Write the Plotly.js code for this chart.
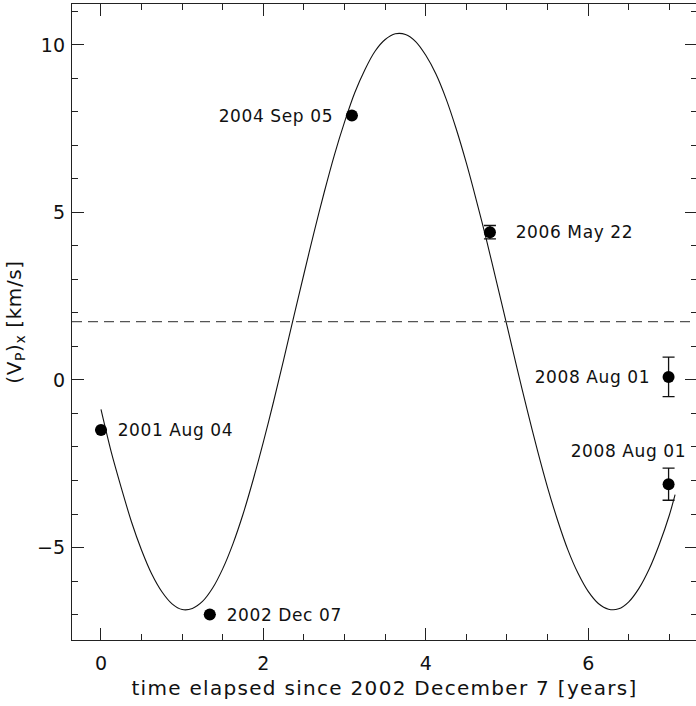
<!DOCTYPE html>
<html>
<head>
<meta charset="utf-8">
<script src="https://cdn.plot.ly/plotly-3.0.1.min.js"></script>
<style>
  body { margin: 0; overflow: hidden; background: #fff; }
  #chart { width: 700px; height: 706px; }
  /* the original font is drawn with wide spacing */
  #chart .xtitle { letter-spacing: 1.3px; }
  #chart .ytitle { letter-spacing: 0.6px; }
  #chart .annotation-text { letter-spacing: 0.6px; }
</style>
</head>
<body>
<div id="chart"></div>
<script>
// model curve
const curveT = [0, 0.125, 0.25, 0.375, 0.5, 0.625, 0.75, 0.875, 1.0, 1.125, 1.25, 1.375, 1.5, 1.625, 1.75, 1.875,
  2.0, 2.125, 2.25, 2.375, 2.5, 2.625, 2.75, 2.875, 3.0, 3.125, 3.25, 3.375, 3.5, 3.625, 3.75, 3.875,
  4.0, 4.125, 4.25, 4.375, 4.5, 4.625, 4.75, 4.875, 5.0, 5.125, 5.25, 5.375, 5.5, 5.625, 5.75, 5.875,
  6.0, 6.125, 6.25, 6.375, 6.5, 6.625, 6.75, 6.875, 7.0, 7.07];
const curveV = [-0.88, -2.14, -3.22, -4.23, -5.08, -5.79, -6.32, -6.68, -6.85, -6.82, -6.61, -6.21, -5.63, -4.89, -4.0, -2.97,
  -1.85, -0.65, 0.61, 1.9, 3.17, 4.42, 5.61, 6.72, 7.7, 8.57, 9.26, 9.81, 10.16, 10.33, 10.31, 10.1,
  9.69, 9.13, 8.39, 7.49, 6.47, 5.34, 4.15, 2.89, 1.62, 0.34, -0.91, -2.1, -3.21, -4.2, -5.07, -5.77,
  -6.31, -6.67, -6.84, -6.83, -6.62, -6.22, -5.65, -4.91, -4.03, -3.42];

// measured points
const obsT = [0, 1.34, 3.09, 4.79, 6.99, 6.99];
const obsV = [-1.49, -7.0, 7.89, 4.41, 0.09, -3.11];
const obsErr = [0, 0, 0, 0.2, 0.59, 0.48];
const obsLabels = ["2001 Aug 04", "2002 Dec 07", "2004 Sep 05", "2006 May 22", "2008 Aug 01", "2008 Aug 01"];

// mean level (dashed)
const meanV = 1.74;

const ink = "#111";
const font = { family: "DejaVu Sans, sans-serif", size: 18, color: ink };

const traces = [
  {
    x: curveT, y: curveV,
    mode: "lines", type: "scatter",
    line: { color: ink, width: 1.1, shape: "spline", smoothing: 0.8 },
    hoverinfo: "skip"
  },
  {
    x: obsT, y: obsV,
    mode: "markers", type: "scatter",
    marker: { color: "#000", size: 12 },
    error_y: { type: "data", array: obsErr, visible: true, color: ink, thickness: 1.3, width: 6 }
  }
];

// label placement next to each point
const labelPos = [
  { xanchor: "left", xshift: 18, yshift: 0 },
  { xanchor: "left", xshift: 18, yshift: 0 },
  { xanchor: "right", xshift: -20, yshift: 0 },
  { xanchor: "left", xshift: 27, yshift: 0 },
  { xanchor: "right", xshift: -20, yshift: 0 },
  { xanchor: "center", xshift: -40, yshift: 33 }
];

const annotations = obsLabels.map((txt, i) => ({
  x: obsT[i], y: obsV[i], xref: "x", yref: "y",
  text: txt, showarrow: false,
  xanchor: labelPos[i].xanchor, yanchor: "middle",
  xshift: labelPos[i].xshift, yshift: labelPos[i].yshift,
  font: { family: font.family, size: 17, color: ink }
}));

const axisCommon = {
  showgrid: false, zeroline: false,
  showline: true, linecolor: "#222", linewidth: 1.2,
  mirror: "allticks", ticks: "inside", ticklen: 12, tickwidth: 1, tickcolor: "#222",
  tickfont: { family: font.family, size: 19, color: ink },
  minor: { ticks: "inside", ticklen: 6, tickwidth: 1, tickcolor: "#222" }
};

const layout = {
  width: 700, height: 706,
  margin: { l: 72, r: 3, t: 4, b: 66 },
  paper_bgcolor: "#fff", plot_bgcolor: "#fff",
  showlegend: false,
  font: font,
  xaxis: Object.assign({}, axisCommon, {
    range: [-0.357, 7.34],
    tickvals: [0, 2, 4, 6],
    ticklabelstandoff: 6,
    minor: Object.assign({}, axisCommon.minor, { dtick: 0.5, tick0: 0 }),
    title: { text: "time elapsed since 2002 December 7 [years]", font: { family: font.family, size: 20, color: ink }, standoff: 8 }
  }),
  yaxis: Object.assign({}, axisCommon, {
    range: [-7.76, 11.22],
    tickvals: [-5, 0, 5, 10],
    ticktext: ["\u22125", "0", "5", "10"],
    ticklabelstandoff: 2,
    minor: Object.assign({}, axisCommon.minor, { dtick: 1, tick0: 0 }),
    title: { text: "(V<sub>P</sub>)<sub>x</sub> [km/s]", font: { family: font.family, size: 20, color: ink }, standoff: 10 }
  }),
  shapes: [
    {
      type: "line", xref: "paper", yref: "y",
      x0: 0, x1: 1, y0: meanV, y1: meanV,
      line: { color: "#555", width: 1.4, dash: "10px,6px" }
    }
  ],
  annotations: annotations
};

Plotly.newPlot("chart", traces, layout, { displayModeBar: false, staticPlot: true });
</script>
</body>
</html>
